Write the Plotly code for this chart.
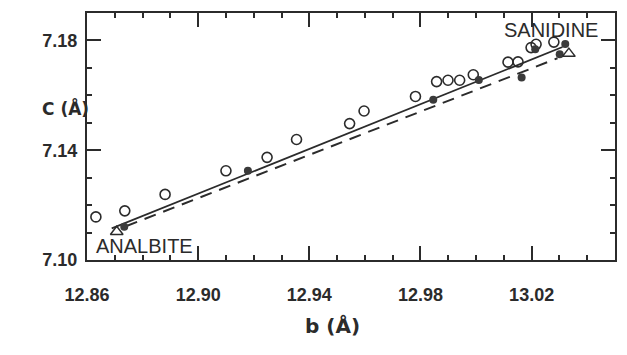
import plotly.graph_objects as go

# Open circles
open_b = [12.8632, 12.8736, 12.8881, 12.9100, 12.9248, 12.9354, 12.9545, 12.9597,
          12.9782, 12.9858, 12.9899, 12.9941, 12.9990, 13.0115, 13.0151, 13.0198,
          13.0216, 13.0280]
open_c = [7.1157, 7.1179, 7.1239, 7.1325, 7.1374, 7.1439, 7.1497, 7.1543,
          7.1596, 7.1650, 7.1655, 7.1655, 7.1675, 7.1721, 7.1722, 7.1774,
          7.1786, 7.1794]

# Filled circles
filled_b = [12.8734, 12.9179, 12.9846, 13.0010, 13.0164, 13.0213, 13.0321, 13.0301]
filled_c = [7.1121, 7.1325, 7.1584, 7.1656, 7.1665, 7.1768, 7.1787, 7.1750]

# End members (open triangles)
tri_b = [12.8707, 13.0334]
tri_c = [7.1103, 7.1752]
end_names = ["ANALBITE", "SANIDINE"]

# Regression lines
solid_b = [12.8689, 13.0311]
solid_c = [7.1115, 7.1776]
dash_b = [12.8740, 13.0293]
dash_c = [7.1123, 7.1735]

x_ticks = [12.86, 12.90, 12.94, 12.98, 13.02]
y_ticks = [7.10, 7.14, 7.18]
minor_step = 0.01

ink = "#2b2b2b"

fig = go.Figure()
fig.add_trace(go.Scatter(x=solid_b, y=solid_c, mode="lines",
                         line=dict(color=ink, width=1.8), hoverinfo="skip"))
fig.add_trace(go.Scatter(x=dash_b, y=dash_c, mode="lines",
                         line=dict(color=ink, width=2, dash="12px,8px"), hoverinfo="skip"))
fig.add_trace(go.Scatter(x=open_b, y=open_c, mode="markers",
                         marker=dict(symbol="circle-open", size=10, color=ink,
                                     line=dict(width=1.6, color=ink))))
fig.add_trace(go.Scatter(x=filled_b, y=filled_c, mode="markers",
                         marker=dict(symbol="circle", size=8, color="#3a3a3a")))
fig.add_trace(go.Scatter(x=tri_b, y=tri_c, mode="markers",
                         marker=dict(symbol="triangle-up-open", size=11, color=ink,
                                     line=dict(width=1.5, color=ink))))

axis_common = dict(
    showgrid=False, zeroline=False, showline=True, linecolor=ink, linewidth=2,
    mirror="ticks", ticks="inside", ticklen=14, tickwidth=2, tickcolor=ink,
    tickmode="linear", tickformat=".2f",
    tickfont=dict(family="Liberation Sans", size=18, color=ink, weight="bold"),
    minor=dict(ticks="inside", ticklen=5, tickwidth=1.6, tickcolor=ink,
               dtick=minor_step, showgrid=False),
)

fig.update_xaxes(range=[12.86, 13.05], tick0=x_ticks[0], dtick=x_ticks[1] - x_ticks[0],
                 ticklabelstandoff=17, **axis_common)
fig.update_yaxes(range=[7.10, 7.19], tick0=y_ticks[0], dtick=y_ticks[1] - y_ticks[0],
                 ticklabelstandoff=4, **axis_common)

fig.update_layout(
    width=627, height=355,
    margin=dict(l=87, r=10, t=13, b=95),
    plot_bgcolor="white", paper_bgcolor="white",
    showlegend=False,
    annotations=[
        dict(text=end_names[0], x=12.8625, y=7.1005, xref="x", yref="y",
             xanchor="left", yanchor="bottom", showarrow=False,
             font=dict(family="Liberation Sans", size=20, color=ink)),
        dict(text=end_names[1], x=13.0445, y=7.1885, xref="x", yref="y",
             xanchor="right", yanchor="top", showarrow=False,
             font=dict(family="Liberation Sans", size=20, color=ink)),
        dict(text="C (Å)", x=40, y=95, xref="paper", yref="paper",
             showarrow=False, font=dict(family="DejaVu Sans", size=17, color=ink, weight="bold")),
        dict(text="b (Å)", x=333, y=340, xref="paper", yref="paper",
             showarrow=False, font=dict(family="DejaVu Sans", size=20, color=ink, weight="bold")),
    ],
)

# convert pixel-placed title annotations to paper coordinates
pw, ph = 627 - 87 - 10, 355 - 13 - 95
for a in fig.layout.annotations:
    if a.xref == "paper":
        px, py = a.x, a.y
        a.x = (px - 87) / pw
        a.y = (355 - 95 - py) / ph

fig.write_html("out.html")
